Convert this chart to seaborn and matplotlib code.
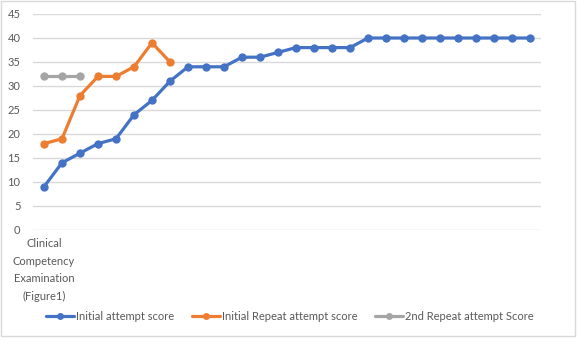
import numpy as np
import pandas as pd
import matplotlib
matplotlib.use("Agg")
import matplotlib.pyplot as plt
from matplotlib.lines import Line2D
import seaborn as sns

# Scores per attempt, in order of examination
initial_attempt = [9, 14, 16, 18, 19, 24, 27, 31, 34, 34, 34, 36, 36, 37, 38, 38, 38, 38,
                   40, 40, 40, 40, 40, 40, 40, 40, 40, 40]
initial_repeat = [18, 19, 28, 32, 32, 34, 39, 35]
second_repeat = [32, 32, 32]

series_names = ["Initial attempt score", "Initial Repeat attempt score", "2nd Repeat attempt Score"]
series_values = [initial_attempt, initial_repeat, second_repeat]
category_label = "Clinical\nCompetency\nExamination\n(Figure1)"
y_ticks = [0, 5, 10, 15, 20, 25, 30, 35, 40, 45]

rows = []
for name, vals in zip(series_names, series_values):
    for i, v in enumerate(vals):
        rows.append({"pos": i, "score": v, "series": name})
df = pd.DataFrame(rows)

sns.set_theme(style="white")
plt.rcParams["font.family"] = ["Lato", "DejaVu Sans"]

fig = plt.figure(figsize=(5.86, 3.45), dpi=100)
ax = fig.add_axes([33 / 586, 1 - 230 / 345, (541 - 33) / 586, (230 - 14) / 345])

palette = {series_names[0]: "#4472C4", series_names[1]: "#ED7D31", series_names[2]: "#A5A5A5"}
sns.lineplot(data=df, x="pos", y="score", hue="series", palette=palette, marker="o",
             markersize=6, markeredgewidth=0, linewidth=2.3, ax=ax, sort=False,
             hue_order=series_names, legend=False)

ax.set_ylim(0, 45)
ax.set_yticks(y_ticks)
ax.set_xlim(-0.61, len(initial_attempt) - 1 + 0.61)
ax.set_xticks([0])
ax.set_xticklabels([category_label], linespacing=1.72, ha="center", multialignment="center")
ax.set_xlabel("")
ax.set_ylabel("")
ax.yaxis.grid(True, color="#D9D9D9", linewidth=1)
ax.set_axisbelow(True)
for s in ax.spines.values():
    s.set_visible(False)
ax.tick_params(axis="both", length=0, labelsize=8, colors="#595959")
ax.tick_params(axis="y", pad=9)
ax.tick_params(axis="x", pad=6)

handles = [Line2D([], [], color=palette[n], linewidth=2.3, marker="o", markersize=5,
                  markeredgewidth=0) for n in series_names]
fig.legend(handles, series_names, loc="center", bbox_to_anchor=(290 / 586, 1 - 316 / 345),
           ncol=3, frameon=False, fontsize=8, handlelength=2.5, handletextpad=0.2,
           columnspacing=1.6, labelcolor="#595959")

# chart-area border
fig.patches.append(plt.Rectangle((1 / 586, 1 - 336 / 345), 574 / 586, 335 / 345,
                                 transform=fig.transFigure, fill=False,
                                 edgecolor="#D9D9D9", linewidth=1))

fig.savefig("out.png", dpi=100)
